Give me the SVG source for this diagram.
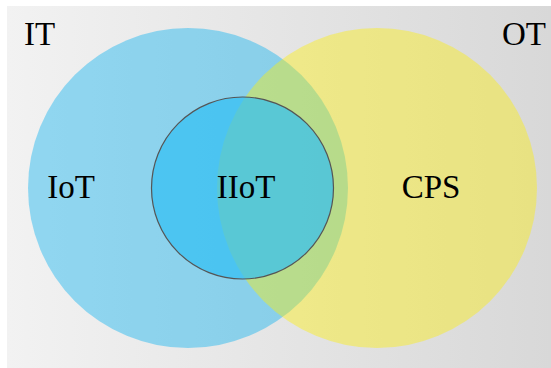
<svg xmlns="http://www.w3.org/2000/svg" width="551" height="368" viewBox="0 0 551 368">
<defs>
<linearGradient id="bg" x1="0" y1="0" x2="1" y2="0">
<stop offset="0" stop-color="#f2f2f2"/>
<stop offset="1" stop-color="#d8d8d8"/>
</linearGradient>
</defs>
<style>
.t{font-family:"Liberation Serif","Times New Roman",serif;font-size:33px;fill:#000}
</style>
<rect x="0" y="0" width="551" height="368" fill="#ffffff"/>
<rect x="7" y="6" width="544" height="362" fill="url(#bg)"/>
<g id="iot">
<circle cx="188" cy="188" r="160" fill="#00b0f0" fill-opacity="0.4"/>
</g>
<g id="cps">
<circle cx="377" cy="188" r="160" fill="#fef100" fill-opacity="0.4"/>
</g>
<g id="iiot">
<circle cx="242.5" cy="188" r="91" fill="#30bff3" fill-opacity="0.7" stroke="#555" stroke-width="1.2"/>
</g>
<g id="labels">
<text class="t" x="24" y="45">IT</text>
<text class="t" x="546" y="45" text-anchor="end">OT</text>
<text class="t" x="71" y="198" text-anchor="middle">IoT</text>
<text class="t" x="246" y="198" text-anchor="middle">IIoT</text>
<text class="t" x="431" y="198" text-anchor="middle">CPS</text>
</g>
<g id="connectors"/>
</svg>
